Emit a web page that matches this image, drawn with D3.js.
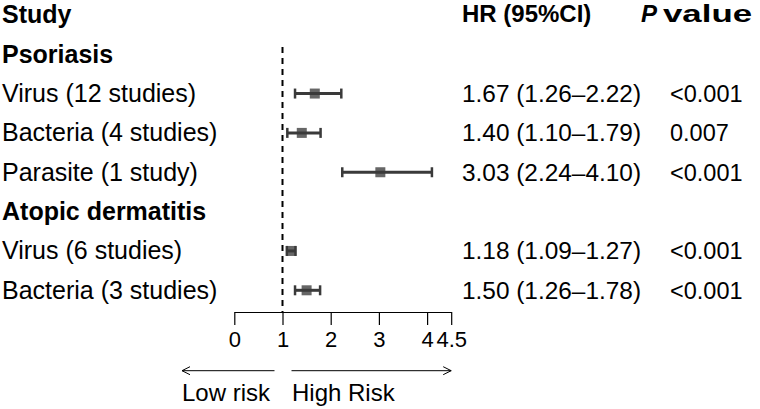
<!DOCTYPE html>
<html>
<head>
<meta charset="utf-8">
<script src="https://cdn.jsdelivr.net/npm/d3@7"></script>
<style>
  body { margin: 0; background: #fff; }
  text { font-family: "Liberation Sans", Arial, Helvetica, sans-serif; fill: #000; }
</style>
</head>
<body>
<svg id="canvas"></svg>
<script>
// rows, top to bottom (group headers have no estimate)
const labels = ["Psoriasis", "Virus (12 studies)", "Bacteria (4 studies)", "Parasite (1 study)",
    "Atopic dermatitis", "Virus (6 studies)", "Bacteria (3 studies)"];
const isGroup = [true, false, false, false, true, false, false];
const hr = [null, 1.67, 1.40, 3.03, null, 1.18, 1.50];
const lower = [null, 1.26, 1.10, 2.24, null, 1.09, 1.26];
const upper = [null, 2.22, 1.79, 4.10, null, 1.27, 1.78];
const pValues = ["", "<0.001", "0.007", "<0.001", "", "<0.001", "<0.001"];
const tickValues = [0, 1, 2, 3, 4, 4.5];

const width = 760;
const height = 409;
const fmt = d3.format(".2f");

const svg = d3.select("#canvas")
    .attr("width", width)
    .attr("height", height);

const scaleX = d3.scaleLinear()
    .domain([0, 4.5])
    .range([234.3, 451.2]);
const scaleY = d3.scaleLinear()
    .domain([0, labels.length - 1])
    .range([54.2, 290.3]);

const axisY = 312;
const colStudy = 2;
const colHR = 462;
const colP = 670;

// headers
const header = svg.append("g").attr("font-weight", "bold").attr("font-size", 24);
header.append("text").attr("x", colStudy).attr("y", 23).attr("font-size", 25).text("Study");
header.append("text").attr("x", colHR).attr("y", 22).text("HR (95%CI)");
header.append("text").attr("x", 641).attr("y", 22)
    .attr("font-style", "italic").text("P");
header.append("text").attr("x", 663).attr("y", 22)
    .attr("textLength", 89).attr("lengthAdjust", "spacingAndGlyphs").text("value");

// row labels
svg.append("g").selectAll("text")
    .data(labels)
    .join("text")
    .attr("x", colStudy)
    .attr("y", (d, i) => scaleY(i) + 8.5)
    .attr("font-size", 25)
    .attr("font-weight", (d, i) => isGroup[i] ? "bold" : "normal")
    .text(d => d);

const rows = labels.map((d, i) => ({ i, hr: hr[i], lo: lower[i], hi: upper[i], p: pValues[i] }))
    .filter(d => d.hr !== null);

// HR and p columns
svg.append("g").selectAll("text")
    .data(rows)
    .join("text")
    .attr("x", colHR)
    .attr("y", d => scaleY(d.i) + 8.5)
    .attr("font-size", 24.4)
    .text(d => `${fmt(d.hr)} (${fmt(d.lo)}\u2013${fmt(d.hi)})`);
svg.append("g").selectAll("text")
    .data(rows)
    .join("text")
    .attr("x", colP)
    .attr("y", d => scaleY(d.i) + 8.5)
    .attr("font-size", 23.5)
    .text(d => d.p);

// reference line at HR = 1
svg.append("line")
    .attr("x1", scaleX(1)).attr("x2", scaleX(1))
    .attr("y1", 47).attr("y2", axisY)
    .attr("stroke", "#000")
    .attr("stroke-width", 2)
    .attr("stroke-dasharray", "6,5");

// confidence intervals
const ci = svg.append("g").attr("stroke", "#3a3a3a");
ci.selectAll("rect")
    .data(rows)
    .join("rect")
    .attr("x", d => scaleX(d.hr) - 5)
    .attr("y", d => scaleY(d.i) - 5)
    .attr("width", 10)
    .attr("height", 10)
    .attr("fill", "#666")
    .attr("stroke", "none");
ci.selectAll("line.whisker")
    .data(rows)
    .join("line")
    .classed("whisker", true)
    .attr("x1", d => scaleX(d.lo)).attr("x2", d => scaleX(d.hi))
    .attr("y1", d => scaleY(d.i)).attr("y2", d => scaleY(d.i))
    .attr("stroke-width", 3);
["lo", "hi"].forEach(k => {
    ci.selectAll(`line.cap-${k}`)
        .data(rows)
        .join("line")
        .attr("class", `cap-${k}`)
        .attr("x1", d => scaleX(d[k])).attr("x2", d => scaleX(d[k]))
        .attr("y1", d => scaleY(d.i) - 5).attr("y2", d => scaleY(d.i) + 5)
        .attr("stroke-width", 2.5);
});

// x axis
const axisG = svg.append("g")
    .attr("transform", `translate(0, ${axisY})`)
    .call(d3.axisBottom(scaleX)
        .tickValues(tickValues)
        .tickFormat(d3.format(""))
        .tickSize(13)
        .tickSizeOuter(0)
        .tickPadding(6));
axisG.select(".domain").attr("stroke", "#000").attr("stroke-width", 1.2);
axisG.selectAll(".tick line").attr("stroke", "#000").attr("stroke-width", 1.2);
axisG.selectAll(".tick text")
    .attr("font-size", 22)
    .attr("font-family", "Liberation Sans, Arial, sans-serif")
    .attr("fill", "#000");

// risk arrows
const arrowY = 370.7;
const arrows = svg.append("g").attr("stroke", "#000").attr("stroke-width", 1).attr("fill", "none");
arrows.append("line").attr("x1", scaleX(1) - 8).attr("x2", 182).attr("y1", arrowY).attr("y2", arrowY);
arrows.append("path").attr("d", `M190,${arrowY - 4}L182,${arrowY}L190,${arrowY + 4}`);
arrows.append("line").attr("x1", scaleX(1) + 9).attr("x2", scaleX(4.5)).attr("y1", arrowY).attr("y2", arrowY);
arrows.append("path").attr("d", `M${scaleX(4.5) - 8},${arrowY - 4}L${scaleX(4.5)},${arrowY}L${scaleX(4.5) - 8},${arrowY + 4}`);

svg.append("text").attr("x", 182).attr("y", 401).attr("font-size", 24).text("Low risk");
svg.append("text").attr("x", 292).attr("y", 401).attr("font-size", 24).text("High Risk");
</script>
</body>
</html>
